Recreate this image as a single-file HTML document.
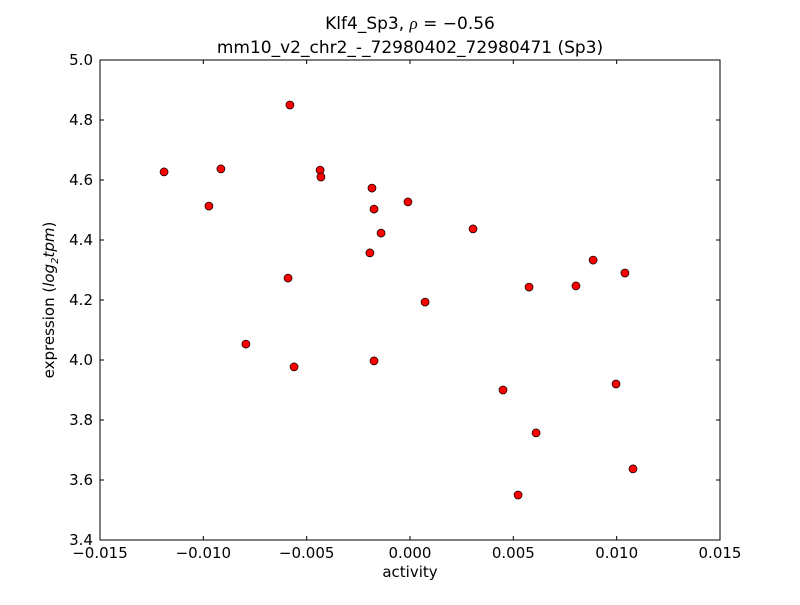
<!DOCTYPE html>
<html><head><meta charset="utf-8"><style>
body{margin:0;background:#fff;font-family:"Liberation Sans","DejaVu Sans",sans-serif}
svg text{font-family:"DejaVu Sans","Liberation Sans",sans-serif}
</style></head><body>
<svg id="chart" width="800" height="600" xmlns="http://www.w3.org/2000/svg">
<rect width="800" height="600" fill="#fff"/>
<text x="410" y="29" font-size="17" text-anchor="middle">Klf4_Sp3, <tspan font-style="italic" font-family="Liberation Serif,serif">ρ</tspan> = −0.56</text>
<text x="410" y="53" font-size="17" text-anchor="middle">mm10_v2_chr2_-_72980402_72980471 (Sp3)</text>
<text x="410" y="577" font-size="15" text-anchor="middle">activity</text>
<text transform="translate(54,300) rotate(-90)" font-size="15" text-anchor="middle">expression (<tspan font-style="italic">log</tspan><tspan font-size="10" dy="4" font-style="italic">2</tspan><tspan dy="-4" font-style="italic">tpm</tspan>)</text>
<g id="ticks"></g>
<g id="points"></g>
<rect x="100" y="60" width="620" height="480" fill="none" stroke="#000" stroke-width="1"/>
</svg>
<script>
const xs=[-0.0119,-0.00973,-0.00915,-0.00794,-0.0059,-0.00581,-0.00561,-0.00435,-0.00431,-0.00184,-0.00174,-0.00174,-0.0014,-0.00194,-0.0001,0.00073,0.00305,0.0045,0.00523,0.00576,0.0061,0.00803,0.00886,0.00997,0.0104,0.01079];
const ys=[4.627,4.513,4.637,4.053,4.273,4.85,3.977,4.633,4.61,4.573,4.503,3.997,4.423,4.357,4.527,4.193,4.437,3.9,3.55,4.243,3.757,4.247,4.333,3.92,4.29,3.637];
const xTicks=[-0.015,-0.01,-0.005,0,0.005,0.01,0.015];
const xTickLabels=["−0.015","−0.010","−0.005","0.000","0.005","0.010","0.015"];
const yTicks=[3.4,3.6,3.8,4.0,4.2,4.4,4.6,4.8,5.0];
const yTickLabels=["3.4","3.6","3.8","4.0","4.2","4.4","4.6","4.8","5.0"];
const NS="http://www.w3.org/2000/svg";
const X=v=>100+(v+0.015)/0.03*620, Y=v=>540-(v-3.4)/1.6*480;
const tg=document.getElementById('ticks'), pg=document.getElementById('points');
function mk(tag,a,p){const e=document.createElementNS(NS,tag);for(const k in a)e.setAttribute(k,a[k]);p.appendChild(e);return e;}
xTicks.forEach((v,i)=>{const x=X(v);
 let l=mk('line',{x1:x,x2:x,y1:540,y2:536,stroke:'#000'},tg);
 
 
 l=mk('line',{x1:x,x2:x,y1:60,y2:64,stroke:'#000'},tg);
 
 
 const t=mk('text',{x:x,y:558,'font-size':15,'text-anchor':'middle'},tg);t.textContent=xTickLabels[i];
 
 });
yTicks.forEach((v,i)=>{const y=Y(v);
 let l=mk('line',{x1:100,x2:104,y1:y,y2:y,stroke:'#000'},tg);
 
 
 l=mk('line',{x1:716,x2:720,y1:y,y2:y,stroke:'#000'},tg);
 
 
 const t=mk('text',{x:93,y:y+5,'font-size':15,'text-anchor':'end'},tg);t.textContent=yTickLabels[i];
 
 });
xs.forEach((v,i)=>{const c=mk('circle',{cx:X(v),cy:Y(ys[i]),r:4,fill:'#ff0000',stroke:'#000','stroke-width':0.7},pg);
 
 });
</script>
</body></html>
